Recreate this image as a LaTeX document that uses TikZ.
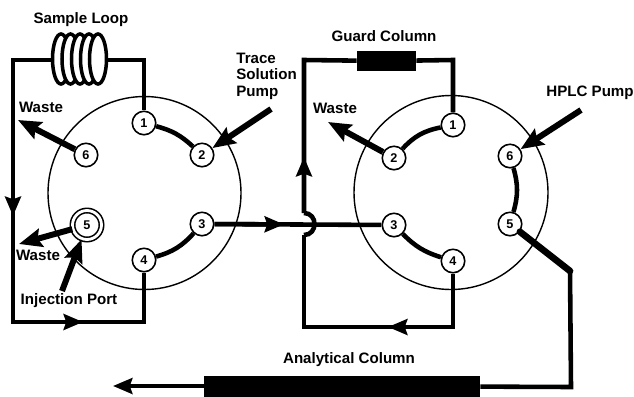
\documentclass[tikz,border=0pt]{standalone}
\usepackage{fontspec}
\setmainfont{Liberation Sans}
\usetikzlibrary{arrows.meta}
\tikzset{
  wire/.style={line width=2.6pt},
  tip/.style={line width=2.6pt,-{Stealth[length=11pt,width=9pt,inset=1.5pt]}},
  sidetip/.style={line width=3.4pt,-{Stealth[length=13pt,width=10.5pt,inset=2pt]}},
  rotor/.style={line width=0.8pt},
  port/.style={circle,draw,fill=white,line width=0.9pt,minimum size=0.47cm,inner sep=0pt,font=\fontsize{7.2}{8}\selectfont\bfseries},
  column/.style={fill=black,inner sep=0pt},
  lab/.style={font=\fontsize{8.6}{9.2}\selectfont\bfseries,inner sep=0pt}
}
\begin{document}
\begin{tikzpicture}[x=0.02cm,y=-0.02cm]
\useasboundingbox (0,0) rectangle (634,396);
% left valve
\draw[rotor] (144.5,193) circle (96.5*0.02cm);
\draw[rotor] (451,192.5) circle (97*0.02cm);

% sample loop and guard column
\coordinate (loopL) at (52,60);
\coordinate (loopR) at (107,60);
\coordinate (leftTop) at (13,60);
\coordinate (leftBot) at (13,322);
\coordinate (leftMid) at (13,216);
\coordinate (botMid) at (83,322);
\coordinate (cornerA) at (144,60);
\coordinate (cornerB) at (144,322);
\coordinate (guardTop) at (304,60);
\coordinate (guardCorner) at (453,60);
\coordinate (hopA) at (304,213);
\coordinate (hopB) at (304,235);
\coordinate (guardMid) at (304,157);
\coordinate (guardBot) at (304,327);
\coordinate (guardBotMid) at (388,327);
\coordinate (guardBotR) at (453,327);
\coordinate (bendA) at (570,271);
\coordinate (bendB) at (571,387);

\node[port] (a1) at (144,123) {1};
\node[port] (a2) at (202,155) {2};
\node[port] (a3) at (202,224) {3};
\node[port] (a4) at (144,260) {4};
\node[port,double,double distance=1.6pt,minimum size=0.58cm] (a5) at (87,225) {5};
\node[port] (a6) at (86,155) {6};

\node[port] (b1) at (453,125) {1};
\node[port] (b2) at (394,158) {2};
\node[port] (b3) at (394,225) {3};
\node[port] (b4) at (453,261) {4};
\node[port] (b5) at (510,224) {5};
\node[port] (b6) at (510,156) {6};

\node[column,minimum width=1.18cm,minimum height=0.4cm] (guard) at (386.5,61) {};
\node[column,minimum width=5.52cm,minimum height=0.42cm] (analytical) at (342,386) {};

% rotor channels
\draw[wire] (a1) to[bend left=14] (a2);
\draw[wire] (a3) to[bend left=16] (a4);
\draw[wire] (b1) to[bend right=18] (b2);
\draw[wire] (b3) to[bend right=14] (b4);
\draw[wire] (b6) to[bend left=16] (b5);

% plumbing
\draw[wire] (loopR) -- (cornerA) -- (a1);
\draw[wire] (loopL) -- (leftTop) -- (leftBot) -- (cornerB) -- (a4);
\draw[tip] (leftTop) -- (leftMid);
\draw[tip] (leftBot) -- (botMid);
\draw[wire] (guard) -- (guardTop) -- (hopA);
\draw[wire] (hopA) .. controls (318,213) and (318,235) .. (hopB);
\draw[wire] (hopB) -- (guardBot) -- (guardBotR) -- (b4);
\draw[tip] (hopA) -- (guardMid);
\draw[tip] (guardBotR) -- (guardBotMid);
\draw[wire] (guard) -- (guardCorner) -- (b1);
\draw[wire] (a3) -- (b3);
\coordinate (crossMid) at (284,224.4);
\draw[tip] (a3) -- (crossMid);
\draw[line width=3.8pt,line cap=round] (b5) -- (bendA);
\draw[wire] (bendA) -- (bendB) -- (analytical);
\coordinate (outEnd) at (113,386);
\draw[tip] (analytical) -- (outEnd);

% side arrows
\coordinate (wasteA) at (18,120);
\coordinate (wasteB) at (19,244);
\coordinate (wasteC) at (328,122);
\coordinate (inject) at (62,291);
\coordinate (trace) at (271,109);
\coordinate (hplc) at (581,110);
\draw[sidetip] (a6) -- (wasteA);
\draw[sidetip] (a5) -- (wasteB);
\draw[sidetip] (b2) -- (wasteC);
\draw[sidetip] (inject) -- (a5);
\draw[sidetip] (trace) -- (a2);
\draw[sidetip] (hplc) -- (b6);

% coil
\foreach \cx in {61,70.5,80,89,98} {
  \draw[line width=2pt,fill=white] (\cx,59) ellipse (8.5*0.02cm and 25*0.02cm);
}

% labels
\node[lab] (sampleLab) at (81,20) {Sample Loop};
\node[lab,align=left,anchor=north west] (traceLab) at (236,53) {Trace\\Solution\\Pump};
\node[lab] (wasteLabA) at (41,107) {Waste};
\node[lab] (wasteLabB) at (38,255) {Waste};
\node[lab] (injectLab) at (69,301) {Injection Port};
\node[lab] (guardLab) at (384,36) {Guard Column};
\node[lab] (wasteLabC) at (335,108) {Waste};
\node[lab] (hplcLab) at (590,93) {HPLC Pump};
\node[lab] (analyticalLab) at (349,360) {Analytical Column};
\end{tikzpicture}
\end{document}
